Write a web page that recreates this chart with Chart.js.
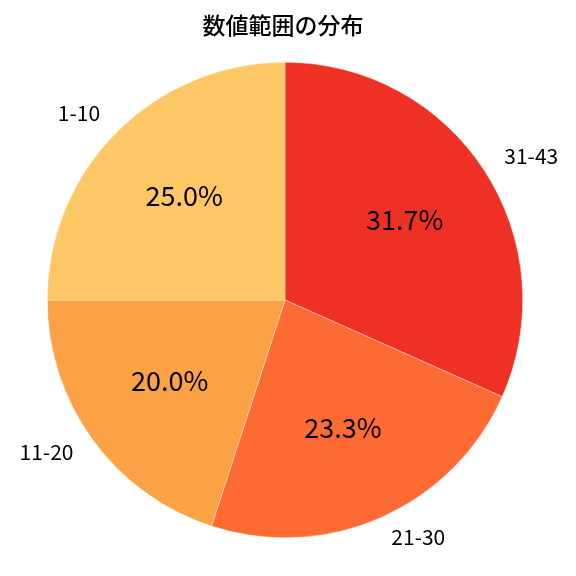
<!DOCTYPE html>
<html>
<head>
<meta charset="utf-8">
<script src="https://cdn.jsdelivr.net/npm/chart.js@4"></script>
<style>
  html, body { margin: 0; padding: 0; background: #fff; }
  canvas { display: block; }
</style>
</head>
<body>
<canvas id="pie" width="576" height="576"></canvas>
<script>
// ---------------- DATA ----------------
const labels = ["31-43", "21-30", "11-20", "1-10"];
const counts = [19, 14, 12, 15];
const colors = ["#EE3124", "#FE6A33", "#FBA146", "#FDC766"];
const title = "数値範囲の分布";

const FONT = "'Noto Sans CJK JP', 'Noto Sans', sans-serif";
const total = counts.reduce((a, b) => a + b, 0);

// draws outside labels, inside percentages and the title
const pieText = {
    id: "pieText",
    afterDatasetsDraw(chart) {
        const ctx = chart.ctx;
        const arcs = chart.getDatasetMeta(0).data;
        ctx.save();
        ctx.fillStyle = "#000";
        ctx.textBaseline = "middle";
        arcs.forEach((arc, i) => {
            const mid = (arc.startAngle + arc.endAngle) / 2;
            const r = arc.outerRadius;
            // label at 1.1 r
            const lx = arc.x + Math.cos(mid) * r * 1.1;
            const ly = arc.y + Math.sin(mid) * r * 1.1;
            ctx.font = "21px " + FONT;
            ctx.textAlign = Math.cos(mid) >= 0 ? "left" : "right";
            ctx.fillText(labels[i], lx, ly - 2);
            // percentage at 0.6 r
            const px = arc.x + Math.cos(mid) * r * 0.6;
            const py = arc.y + Math.sin(mid) * r * 0.6;
            ctx.font = "27px " + FONT;
            ctx.textAlign = "center";
            ctx.fillText((counts[i] / total * 100).toFixed(1) + "%", px, py - 3);
        });
        ctx.font = "500 23px " + FONT;
        ctx.textAlign = "center";
        ctx.fillText(title, 283, 25);
        ctx.restore();
    }
};

new Chart(document.getElementById("pie"), {
    type: "pie",
    data: {
        labels: labels,
        datasets: [{
            data: counts,
            backgroundColor: colors,
            borderColor: "rgba(255,255,255,0.6)",
            borderWidth: 0.6
        }]
    },
    options: {
        responsive: false,
        animation: false,
        layout: { padding: { left: 47, right: 53, top: 62, bottom: 38 } },
        plugins: {
            legend: { display: false },
            tooltip: { enabled: false },
            title: { display: false }
        }
    },
    plugins: [pieText]
});
</script>
</body>
</html>
